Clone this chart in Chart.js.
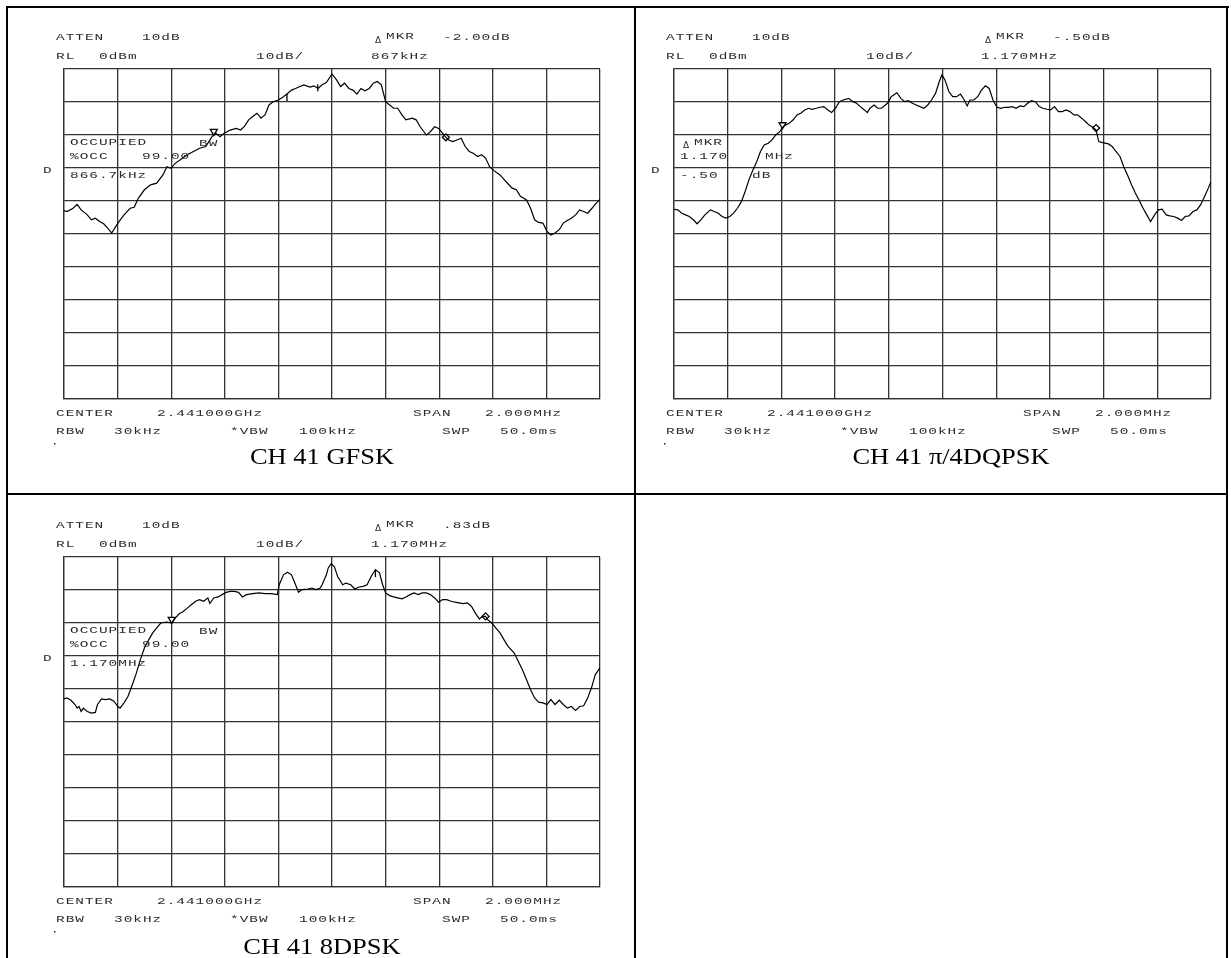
<!DOCTYPE html>
<html>
<head>
<meta charset="utf-8">
<script src="https://cdn.jsdelivr.net/npm/chart.js@4.4.1/dist/chart.umd.min.js"></script>
<style>
    body { margin: 0; background: #fff; width: 1231px; height: 958px; overflow: hidden; position: relative; }
    canvas { position: absolute; }
    .rule { position: absolute; background: #000; }
</style>
</head>
<body>
<canvas id="gfsk" width="627" height="486" style="left:8px;top:8px"></canvas>
<canvas id="dqpsk" width="590" height="486" style="left:636px;top:8px"></canvas>
<canvas id="dpsk8" width="627" height="463" style="left:8px;top:495px"></canvas>

<div class="rule" style="left:6px;top:6px;width:1223px;height:2px"></div>
<div class="rule" style="left:6px;top:6px;width:2px;height:952px"></div>
<div class="rule" style="left:634px;top:6px;width:2px;height:952px"></div>
<div class="rule" style="left:1226px;top:6px;width:2px;height:952px"></div>
<div class="rule" style="left:6px;top:493px;width:1222px;height:2px"></div>

<script>
// frequency offset from 2.441 GHz centre, kHz (span 2 MHz) / level in dBm (RL 0 dBm, 10 dB/div)
const gfskFreq = [-1000, -989, -966, -951, -936, -913, -898, -883, -867, -852, -837, -822, -799, -776, -753, -738, -723, -700, -677, -654,
    -631, -616, -601, -585, -562, -540, -517, -494, -471, -448, -433, -418, -402, -380, -357, -341, -326, -311, -296, -280,
    -265, -250, -235, -220, -200, -181, -166, -151, -136, -120, -105, -82, -67, -52, -37, -21, 0, 17, 32, 47,
    63, 78, 93, 108, 123, 139, 154, 169, 184, 200, 215, 230, 245, 261, 276, 299, 314, 329, 352, 367,
    383, 398, 413, 425, 436, 451, 466, 482, 497, 512, 527, 543, 558, 573, 588, 604, 627, 649, 672, 688,
    703, 726, 741, 756, 771, 787, 802, 817, 832, 848, 863, 878, 893, 909, 924, 939, 954, 970, 985, 1000];
const gfskLevel = [-42.9, -43.2, -42.2, -41.0, -42.7, -44.2, -45.7, -45.2, -46.2, -46.9, -48.2, -49.7, -46.7, -44.2, -42.2, -41.9, -39.2, -36.6, -35.1, -34.6,
    -32.1, -29.6, -30.1, -28.6, -27.3, -26.0, -25.0, -24.0, -23.5, -20.5, -19.5, -20.5, -19.5, -18.5, -18.0, -18.5, -17.3, -15.4, -14.4, -13.4,
    -14.9, -13.9, -10.9, -9.9, -9.4, -8.4, -7.4, -6.4, -5.9, -5.3, -4.8, -5.5, -5.1, -5.9, -4.8, -4.1, -1.5, -3.3, -5.3, -4.3,
    -5.9, -6.4, -7.6, -5.9, -6.6, -5.9, -4.3, -3.8, -4.8, -9.9, -10.9, -11.9, -11.9, -13.9, -15.4, -14.9, -15.4, -17.5, -20.0, -19.0,
    -17.5, -18.0, -19.5, -20.7, -21.5, -22.0, -21.5, -21.0, -23.5, -25.0, -25.5, -26.5, -26.0, -27.0, -29.6, -30.8, -32.1, -34.1, -36.1, -36.6,
    -38.6, -39.7, -42.2, -45.7, -46.5, -46.7, -49.2, -50.3, -49.7, -48.7, -46.7, -45.9, -45.2, -44.2, -42.7, -43.2, -43.7, -42.2, -40.7, -39.5];

const dqpskFreq = [-1000, -986, -971, -957, -943, -928, -914, -900, -885, -864, -850, -835, -821, -807, -792, -778, -764, -749, -735, -721,
    -706, -692, -678, -664, -649, -635, -621, -606, -596, -585, -570, -556, -542, -528, -513, -499, -485, -470, -456, -442,
    -427, -413, -399, -384, -370, -349, -334, -320, -306, -291, -280, -270, -255, -241, -227, -205, -191, -170, -155, -141,
    -127, -112, -98, -84, -69, -55, -41, -26, -12, -2, 9, 24, 38, 52, 67, 81, 92, 102, 117, 131,
    145, 160, 174, 188, 203, 217, 231, 246, 260, 274, 289, 303, 317, 331, 346, 360, 374, 389, 403, 417,
    432, 446, 460, 475, 489, 503, 518, 532, 546, 561, 572, 582, 596, 618, 632, 646, 661, 675, 689, 704,
    718, 732, 747, 761, 775, 790, 804, 818, 833, 847, 861, 876, 890, 904, 918, 933, 947, 961, 976, 990, 1000];
const dqpskLevel = [-42.5, -42.7, -43.7, -44.2, -44.7, -45.7, -46.9, -45.7, -44.2, -42.7, -43.2, -43.7, -44.7, -45.2, -44.7, -43.7, -42.2, -40.2, -37.1, -33.6,
    -30.6, -28.1, -25.0, -23.0, -22.5, -21.5, -20.0, -19.0, -17.7, -17.0, -16.4, -15.4, -13.9, -13.4, -12.4, -11.9, -12.2, -11.9, -11.6, -11.4,
    -12.4, -13.2, -11.9, -9.9, -9.4, -8.9, -9.9, -10.4, -11.4, -12.4, -13.2, -11.9, -10.9, -11.9, -11.9, -10.4, -8.4, -7.2, -8.9, -9.9,
    -9.6, -10.4, -10.9, -11.4, -11.9, -10.9, -9.4, -7.4, -3.8, -1.8, -3.3, -6.9, -8.4, -8.4, -7.6, -9.4, -11.2, -9.4, -9.4, -8.4,
    -6.4, -5.1, -5.9, -9.4, -11.6, -11.9, -11.6, -11.6, -11.4, -11.9, -11.2, -11.4, -10.4, -9.6, -9.9, -11.4, -11.9, -12.2, -12.4, -11.4,
    -12.9, -12.9, -12.4, -12.9, -13.9, -13.9, -14.9, -15.9, -17.0, -17.7, -18.5, -22.0, -22.3, -22.7, -23.5, -25.0, -26.5, -29.6, -32.1, -35.1,
    -37.6, -39.7, -42.2, -44.2, -46.2, -44.2, -42.7, -42.5, -44.2, -44.5, -44.7, -45.2, -45.9, -44.7, -44.5, -43.2, -42.7, -41.2, -38.6, -36.1, -34.1];

const dpsk8Freq = [-1000, -989, -974, -959, -951, -944, -936, -928, -921, -913, -898, -883, -875, -860, -845, -829, -814, -799, -791, -776,
    -761, -745, -730, -715, -700, -684, -669, -654, -639, -616, -598, -585, -570, -555, -540, -524, -509, -494, -479, -463,
    -456, -441, -425, -410, -395, -380, -364, -349, -334, -319, -296, -273, -250, -227, -204, -197, -181, -166, -151, -136,
    -125, -113, -90, -75, -59, -44, -37, -21, -14, -3, 9, 21, 40, 52, 70, 85, 101, 116, 131, 146,
    162, 177, 189, 200, 215, 230, 245, 261, 276, 291, 306, 322, 337, 352, 367, 383, 398, 413, 428, 444,
    459, 474, 489, 505, 520, 535, 550, 561, 573, 581, 596, 611, 627, 642, 657, 680, 695, 710, 726, 741,
    756, 771, 787, 802, 817, 832, 848, 863, 878, 893, 909, 924, 939, 954, 970, 982, 1000];
const dpsk8Level = [-43.0, -42.7, -43.4, -44.7, -45.8, -45.3, -46.8, -45.8, -46.3, -46.8, -47.3, -47.1, -44.7, -43.0, -43.2, -43.0, -43.7, -45.3, -45.8, -44.2,
    -42.2, -38.7, -35.2, -31.1, -27.6, -25.1, -23.0, -21.5, -20.0, -19.7, -20.0, -18.5, -17.2, -16.5, -15.5, -14.4, -13.4, -12.9, -13.4, -12.4,
    -14.1, -12.4, -12.1, -11.4, -10.7, -10.4, -10.4, -10.7, -12.1, -11.4, -11.1, -10.9, -11.1, -11.1, -11.4, -8.4, -5.4, -4.6, -5.4, -8.4,
    -10.7, -9.9, -9.7, -9.4, -9.9, -9.4, -8.4, -5.4, -3.3, -2.0, -3.0, -5.9, -8.4, -7.9, -8.4, -9.7, -9.1, -8.9, -8.4, -5.9,
    -3.8, -4.8, -8.4, -10.9, -11.7, -12.1, -12.4, -12.7, -12.1, -11.4, -10.9, -11.4, -10.9, -10.9, -11.4, -12.4, -13.7, -12.9, -12.9, -13.4,
    -13.7, -13.9, -14.1, -13.9, -14.9, -17.0, -18.8, -18.0, -18.0, -19.0, -20.0, -21.5, -23.0, -25.1, -27.1, -29.1, -31.6, -34.1, -37.2, -40.2,
    -42.7, -44.0, -44.2, -44.7, -43.2, -44.7, -43.4, -44.7, -45.8, -45.3, -46.5, -45.3, -45.1, -42.7, -39.2, -35.7, -33.6];

// occupied-bandwidth markers: [down-triangle, diamond]
const gfskMarkFreq = [-441, 425];
const gfskMarkLevel = [-18.9, -20.7];
const dqpskMarkFreq = [-596, 572];
const dqpskMarkLevel = [-16.9, -17.9];
const dpsk8MarkFreq = [-598, 573];
const dpsk8MarkLevel = [-18.9, -18.0];

// short vertical glitch ticks on the traces
const gfskTickFreq = [-168, -53];
const gfskTickLevel = [-8.6, -5.7];
const dqpskTickFreq = [];
const dqpskTickLevel = [];
const dpsk8TickFreq = [162];
const dpsk8TickLevel = [-5.0];

const titles = ['CH 41 GFSK', 'CH 41 \u03c0/4DQPSK', 'CH 41 8DPSK'];

// analyser annotation text, placed relative to the graticule's top-left corner
function headerText(mkrLevel, mkrFreq) {
    return [
        ['ATTEN', -8, -31], ['10dB', 78, -31], ['MKR', 322, -32], [mkrLevel, 379, -31],
        ['RL', -8, -12], ['0dBm', 35, -12], ['10dB/', 192, -12], [mkrFreq, 307, -12],
        ['CENTER', -8, 345], ['2.441000GHz', 93, 345], ['SPAN', 349, 345], ['2.000MHz', 421, 345],
        ['RBW', -8, 363], ['30kHz', 50, 363], ['*VBW', 166, 363], ['100kHz', 235, 363], ['SWP', 378, 363], ['50.0ms', 436, 363]
    ];
}
const occText = (bw) => [['OCCUPIED', 6, 74], ['BW', 135, 75], ['%OCC', 6, 88], ['99.00', 78, 88], [bw, 6, 107], ['D', -21, 102]];

const gfskText = headerText('-2.00dB', '867kHz').concat(occText('866.7kHz'));
const dqpskText = headerText('-.50dB', '1.170MHz').concat([
    ['MKR', 20, 74], ['1.170', 6, 88], ['MHz', 91, 88], ['-.50', 6, 107], ['dB', 78, 107], ['D', -23, 102]
]);
const dpsk8Text = headerText('.83dB', '1.170MHz').concat(occText('1.170MHz'));

function wideText(ctx, str, x, y) {
    for (let i = 0; i < str.length; i++) {
        ctx.save();
        ctx.translate(x + i * 9.65, y);
        ctx.scale(1.6, 1);
        ctx.fillText(str[i], 0, 0);
        ctx.restore();
    }
}

const annotate = {
    id: 'annotate',
    afterDraw(chart, args, opts) {
        const ctx = chart.ctx;
        const l = chart.chartArea.left, t = chart.chartArea.top;
        ctx.save();
        ctx.fillStyle = '#2a2a2a';
        ctx.font = '9px "Liberation Mono"';
        ctx.textBaseline = 'middle';
        ctx.textAlign = 'left';
        opts.items.forEach(([s, x, y]) => wideText(ctx, s, l + x, t + y));
        // delta symbols
        ctx.font = '9px "DejaVu Sans"';
        ctx.fillText('\u0394', l + 311, t - 28);
        if (opts.deltaInGrid) ctx.fillText('\u0394', l + 9, t + 77);
        ctx.fillRect(l - 10, t + 374, 1.5, 1.5);
        // caption
        ctx.fillStyle = '#000';
        ctx.font = '23px "Liberation Serif"';
        ctx.textAlign = 'center';
        ctx.translate(l + opts.titleX, t + opts.titleY);
        ctx.scale(1.15, 1);
        ctx.fillText(opts.title, 0, 0);
        ctx.restore();
    }
};

function spectrum(id, freq, level, markF, markL, tickF, tickL, items, title, titleX, titleY, pad, deltaInGrid) {
    const gridStyle = {color: '#333', lineWidth: 1.3, drawTicks: false};
    new Chart(document.getElementById(id), {
        type: 'line',
        data: {
            datasets: [
                {
                    data: freq.map((f, i) => ({x: f, y: level[i]})),
                    borderColor: '#000', borderWidth: 1.2, pointRadius: 0, tension: 0
                },
                {
                    data: tickF.map((f, i) => ({x: f, y: tickL[i]})),
                    showLine: false, pointStyle: 'line', rotation: 90, pointRadius: 3.5,
                    pointBorderColor: '#000', pointBorderWidth: 1.3
                },
                {
                    data: [{x: markF[0], y: markL[0]}],
                    showLine: false, pointStyle: 'triangle', rotation: 180, pointRadius: 4,
                    pointBackgroundColor: '#fff', pointBorderColor: '#000', pointBorderWidth: 1.3
                },
                {
                    data: [{x: markF[1], y: markL[1]}],
                    showLine: false, pointStyle: 'rectRot', pointRadius: 3.5,
                    pointBackgroundColor: '#fff', pointBorderColor: '#000', pointBorderWidth: 1.3
                }
            ]
        },
        options: {
            responsive: false,
            animation: false,
            devicePixelRatio: 1,
            layout: {padding: pad},
            plugins: {
                legend: {display: false},
                tooltip: {enabled: false},
                annotate: {items: items, title: title, titleX: titleX, titleY: titleY, deltaInGrid: deltaInGrid}
            },
            scales: {
                x: {
                    type: 'linear', min: -1000, max: 1000,
                    ticks: {display: false, stepSize: 200},
                    grid: gridStyle,
                    border: {color: '#333', width: 1.3}
                },
                y: {
                    min: -100, max: 0,
                    ticks: {display: false, stepSize: 10},
                    grid: gridStyle,
                    border: {color: '#333', width: 1.3}
                }
            }
        },
        plugins: [annotate]
    });
}

spectrum('gfsk', gfskFreq, gfskLevel, gfskMarkFreq, gfskMarkLevel, gfskTickFreq, gfskTickLevel, gfskText,
    titles[0], 258, 389, {left: 56, top: 61, right: 35, bottom: 95}, false);
spectrum('dqpsk', dqpskFreq, dqpskLevel, dqpskMarkFreq, dqpskMarkLevel, dqpskTickFreq, dqpskTickLevel, dqpskText,
    titles[1], 277, 389, {left: 38, top: 61, right: 15, bottom: 95}, true);
spectrum('dpsk8', dpsk8Freq, dpsk8Level, dpsk8MarkFreq, dpsk8MarkLevel, dpsk8TickFreq, dpsk8TickLevel, dpsk8Text,
    titles[2], 258, 391, {left: 56, top: 62, right: 35, bottom: 71}, false);
</script>
</body>
</html>
